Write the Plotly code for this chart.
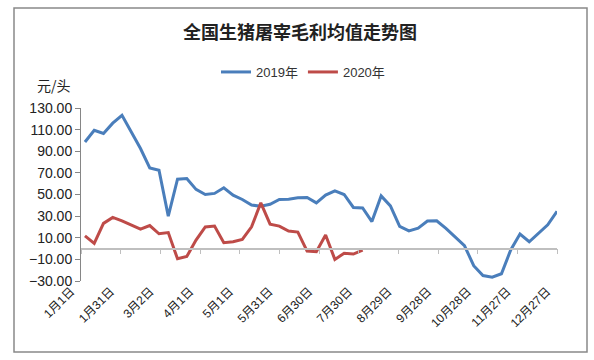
import pandas as pd
import plotly.graph_objects as go

# ---- data ----
title_text = "全国生猪屠宰毛利均值走势图"
series_names = ["2019年", "2020年"]
week_dates = [d.strftime("%Y-%m-%d") for d in pd.date_range("2019-01-04", periods=52, freq="7D")]
profit_2019 = [98.6, 109.4, 106.4, 116, 123.3, 107.8, 92.5, 74.6, 72.5, 30,
               64.2, 64.8, 54.7, 50, 51, 56.2, 49.4, 45.4, 40.2, 39.2,
               41, 45.4, 45.7, 46.9, 47.3, 42.3, 49.4, 53.4, 50, 38,
               37.5, 25, 48.7, 39.4, 20.5, 16.4, 18.8, 25.5, 25.7, 18.6,
               11, 2.8, -15.8, -25, -26.5, -23.3, -1.3, 13.4, 6.3, 14.4,
               22, 34.5]
profit_2020 = [11.7, 4.8, 23.3, 28.8, 25.7, 21.7, 18, 21.3, 13.7, 14.8,
               -9.5, -7.4, 7.8, 20, 20.8, 5.4, 6.3, 8.5, 20.1, 42.3,
               22.6, 20.8, 16.2, 15.2, -2.3, -2.9, 12.5, -10, -4.4, -5.1,
               -1.4]
tick_dates = ["2019-01-01", "2019-01-31", "2019-03-02", "2019-04-01", "2019-05-01",
              "2019-05-31", "2019-06-30", "2019-07-30", "2019-08-29", "2019-09-28",
              "2019-10-28", "2019-11-27", "2019-12-27"]
tick_labels = ["1月1日", "1月31日", "3月2日", "4月1日", "5月1日", "5月31日", "6月30日",
               "7月30日", "8月29日", "9月28日", "10月28日", "11月27日", "12月27日"]
y_ticks = [130, 110, 90, 70, 50, 30, 10, -10, -30]
y_unit = "元/头"

# ---- figure ----
FONT = "Liberation Sans, Noto Sans CJK SC, sans-serif"
CJK = "Noto Sans CJK SC, sans-serif"
ymin, ymax = -30, 130
W, H = 594, 360
ml, mr, mt, mb = 81, 37, 108, 79
pw, ph = W - ml - mr, H - mt - mb

fig = go.Figure()
fig.add_trace(go.Scatter(x=week_dates, y=profit_2019, mode="lines", name=series_names[0],
                         line=dict(color="#4A7EBB", width=3)))
fig.add_trace(go.Scatter(x=week_dates[:len(profit_2020)], y=profit_2020, mode="lines",
                         name=series_names[1], line=dict(color="#BE4B48", width=3)))
# helper trace for the zero-crossing axis
fig.add_trace(go.Scatter(x=[tick_dates[0]], y=[None], xaxis="x2", yaxis="y",
                         showlegend=False, hoverinfo="skip", mode="lines"))

zero_pos = (0 - ymin) / (ymax - ymin)

fig.update_layout(
    width=W, height=H,
    margin=dict(l=ml, r=mr, t=mt, b=mb),
    paper_bgcolor="white", plot_bgcolor="white",
    font=dict(family=FONT, color="#222"),
    title=dict(text=title_text, x=300 / W, xanchor="center", y=1 - 33 / H, yanchor="middle",
               yref="container", font=dict(family=CJK, size=18, color="#222", weight="bold")),
    legend=dict(orientation="h", x=(303 - ml) / pw, xanchor="center",
                y=(H - mb - 72) / ph, yanchor="middle",
                font=dict(family=FONT, size=13, color="#333"), itemwidth=30,
                bgcolor="rgba(0,0,0,0)"),
    xaxis=dict(type="date", range=[tick_dates[0], tick_dates[-1]],
               tickvals=tick_dates, ticktext=tick_labels, tickangle=-45,
               showline=False, ticks="", showgrid=False, zeroline=False,
               ticklabelshift=-10,
               tickfont=dict(family=FONT, size=12, color="#222")),
    xaxis2=dict(type="date", overlaying="x", matches="x", anchor="free", position=zero_pos,
                range=[tick_dates[0], tick_dates[-1]],
                tickvals=tick_dates, showticklabels=False, showline=True,
                linecolor="#BFBFBF", linewidth=1.5, ticks="outside", ticklen=5,
                tickcolor="#BFBFBF", tickwidth=1, showgrid=False, zeroline=False),
    yaxis=dict(range=[ymin, ymax], tickvals=y_ticks, tickformat=".2f",
               showline=True, linecolor="#868686", linewidth=1, ticks="outside",
               ticklen=5, tickcolor="#868686", showgrid=False, zeroline=False,
               tickfont=dict(family=FONT, size=14, color="#222")),
    showlegend=True,
)

fig.add_annotation(text=y_unit, xref="paper", yref="paper", x=(54 - ml) / pw,
                   y=(H - mb - 85) / ph, showarrow=False, xanchor="center", yanchor="middle",
                   font=dict(family=CJK, size=14, color="#222"))

# outer chart frame
fig.add_shape(type="rect", xref="paper", yref="paper",
              x0=(14 - ml) / pw, x1=(587 - ml) / pw,
              y0=(H - mb - 352) / ph, y1=(H - mb - 8) / ph,
              line=dict(color="#898989", width=1.5), layer="below")

fig.write_html("out.html", config={"displayModeBar": False},
               post_script="document.body.style.margin='0';")
